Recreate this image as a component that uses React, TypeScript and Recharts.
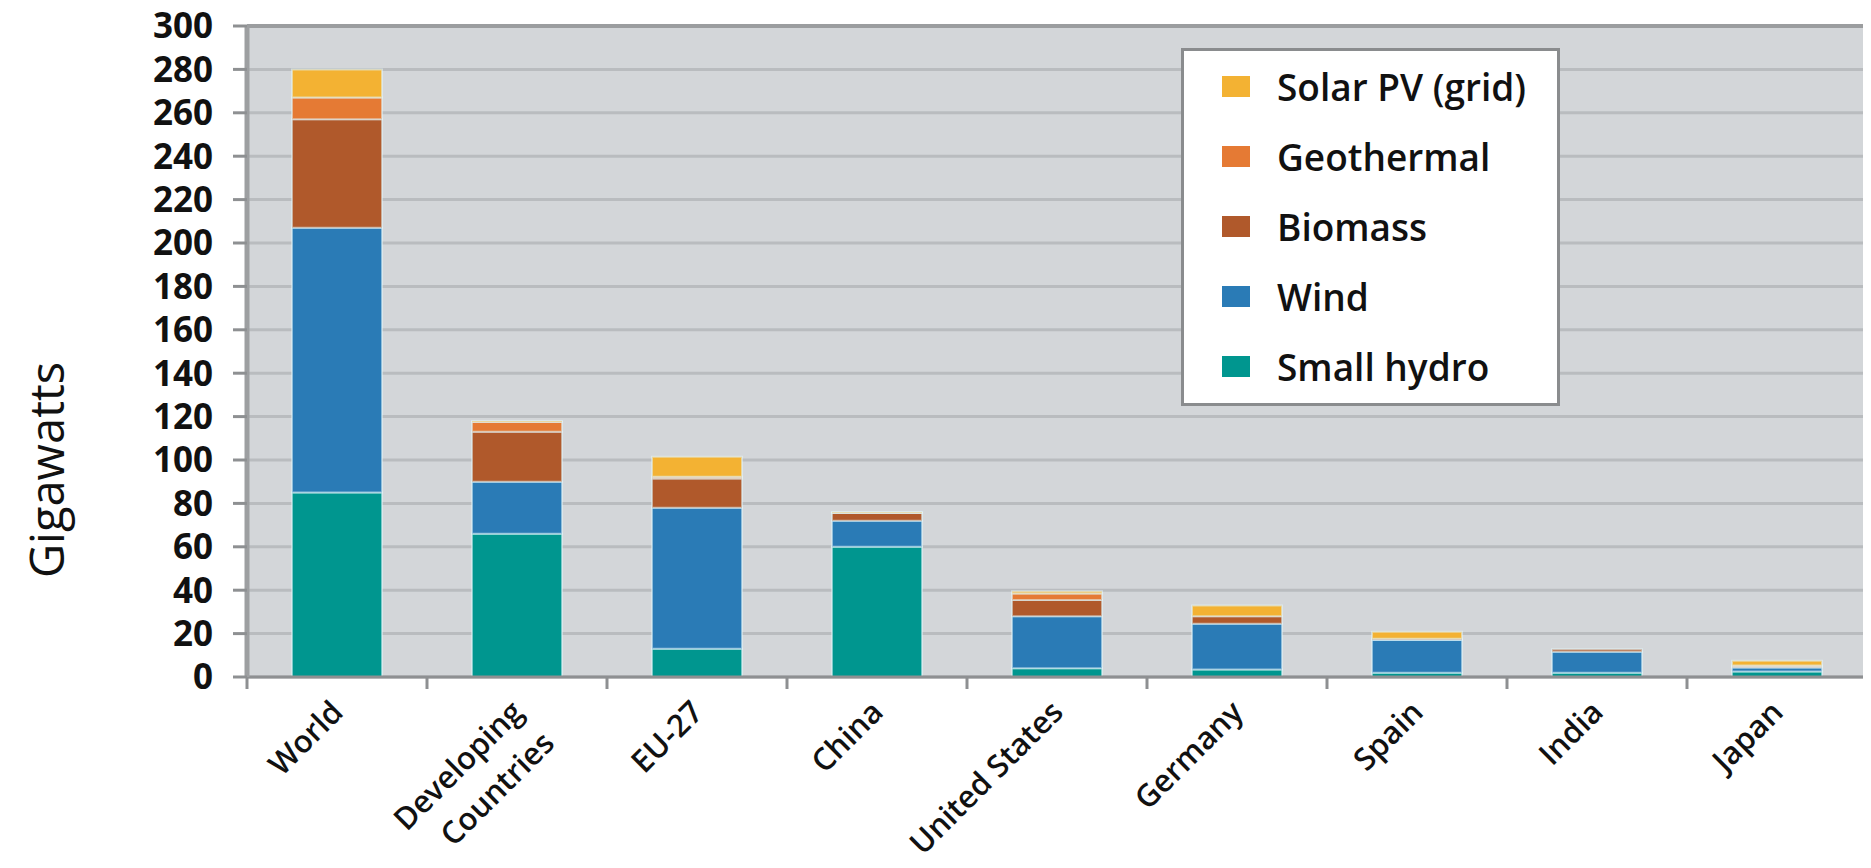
import React from 'react';
import { BarChart, Bar, XAxis, YAxis, CartesianGrid, Legend, Label, ReferenceLine } from 'recharts';

const CATEGORIES = ['World', 'Developing Countries', 'EU-27', 'China', 'United States', 'Germany', 'Spain', 'India', 'Japan'];
const CATEGORY_LINES = [['World'], ['Developing', 'Countries'], ['EU-27'], ['China'], ['United States'], ['Germany'], ['Spain'], ['India'], ['Japan']];
const SMALL_HYDRO = [85, 66, 13, 60, 4, 3.5, 2, 2, 2.5];
const WIND = [122, 24, 65, 12, 24, 21, 15, 9.6, 1.9];
const BIOMASS = [50, 23, 13.5, 3.6, 7.5, 3.5, 0.6, 1.2, 0.4];
const GEOTHERMAL = [10, 4.5, 0.8, 0.1, 3, 0, 0, 0, 0.5];
const SOLAR_PV = [13, 0.5, 9.2, 0.3, 1, 5, 3.2, 0, 2.2];
const Y_TICKS = [0, 20, 40, 60, 80, 100, 120, 140, 160, 180, 200, 220, 240, 260, 280, 300];

const SERIES = [
  { key: 'hydro', name: 'Small hydro', color: '#00968f' },
  { key: 'wind', name: 'Wind', color: '#2a7bb6' },
  { key: 'biomass', name: 'Biomass', color: '#b0592b' },
  { key: 'geo', name: 'Geothermal', color: '#e57a34' },
  { key: 'solar', name: 'Solar PV (grid)', color: '#f3b233' },
];

const data = CATEGORIES.map((c, i) => ({
  category: c,
  hydro: SMALL_HYDRO[i],
  wind: WIND[i],
  biomass: BIOMASS[i],
  geo: GEOTHERMAL[i],
  solar: SOLAR_PV[i],
}));

const W = 1863;
const H = 860;
const MARGIN = { top: 18, right: 4, bottom: 0, left: 0 };
const Y_AXIS_W = 239;
const BAND = (W - MARGIN.left - MARGIN.right - Y_AXIS_W) / CATEGORIES.length;
const FONT = '"Open Sans", "DejaVu Sans", sans-serif';

function XTick(props: any) {
  const { x, y, index } = props;
  const lines = CATEGORY_LINES[index] || [String(props.payload?.value)];
  const last = index === CATEGORIES.length - 1;
  return (
    <g>
      <line x1={x - BAND / 2} x2={x - BAND / 2} y1={y} y2={y + 12} stroke="#8e9092" strokeWidth={3} />
      {last && <line x1={x + BAND / 2} x2={x + BAND / 2} y1={y} y2={y + 12} stroke="#8e9092" strokeWidth={3} />}
      <text
        transform={`translate(${x + 8},${y + 37}) rotate(-45)`}
        textAnchor="end"
        fontFamily={FONT}
        fontWeight={600}
        fontSize={31}
        fill="#111"
      >
        {lines.map((l: string, i: number) => (
          <tspan key={i} x={0} dy={i === 0 ? 0 : 44}>{l}</tspan>
        ))}
      </text>
    </g>
  );
}

function LegendBox() {
  const items = [...SERIES].reverse();
  return (
    <div
      style={{
        boxSizing: 'border-box',
        width: 379,
        height: 358,
        background: '#fff',
        border: '3px solid #8a8c8e',
        paddingTop: 0,
        fontFamily: FONT,
      }}
    >
      {items.map((s) => (
        <div key={s.key} style={{ display: 'flex', alignItems: 'center', height: 70 }}>
          <div style={{ width: 28, height: 21, background: s.color, marginLeft: 38, marginRight: 27 }} />
          <span style={{ fontSize: 37, fontWeight: 600, color: '#111', lineHeight: 1 }}>{s.name}</span>
        </div>
      ))}
    </div>
  );
}

function YTitle() {
  const cx = 38;
  const cy = 462;
  return (
    <text
      x={cx}
      y={cy}
      transform={`rotate(-90, ${cx}, ${cy})`}
      textAnchor="middle"
      dominantBaseline="central"
      fontFamily={FONT}
      fontSize={47}
      fill="#111"
    >
      Gigawatts
    </text>
  );
}

export default function App() {
  return (
    <div style={{ width: W, height: H, position: 'relative' }}>
      <BarChart width={W} height={H} data={data} margin={MARGIN} barCategoryGap="25%">
        <CartesianGrid horizontal vertical={false} stroke="#b9bcbf" strokeWidth={3} fill="#d3d6d9" />
        <XAxis
          dataKey="category"
          height={191}
          interval={0}
          tickLine={false}
          tickSize={0}
          tickMargin={0}
          axisLine={{ stroke: '#8e9092', strokeWidth: 3 }}
          tick={<XTick />}
        />
        <YAxis
          width={Y_AXIS_W}
          domain={[0, 300]}
          ticks={Y_TICKS}
          interval={0}
          tickSize={14}
          tickMargin={20}
          tickLine={{ stroke: '#8e9092', strokeWidth: 3 }}
          axisLine={{ stroke: '#9d9fa1', strokeWidth: 5 }}
          tick={{ fontFamily: FONT, fontWeight: 700, fontSize: 35, fill: '#111' }}
        >
          <Label content={<YTitle />} />
        </YAxis>
        <ReferenceLine y={300} stroke="#9b9d9f" strokeWidth={4} />
        {SERIES.map((s) => (
          <Bar
            key={s.key}
            dataKey={s.key}
            name={s.name}
            stackId="a"
            fill={s.color}
            stroke="rgba(225,245,250,0.55)"
            strokeWidth={2}
            isAnimationActive={false}
          />
        ))}
        <Legend
          layout="vertical"
          align="center"
          verticalAlign="middle"
          content={<LegendBox />}
          wrapperStyle={{ position: 'absolute', left: 1173, top: 40, width: 379, height: 358 }}
        />
      </BarChart>
    </div>
  );
}
